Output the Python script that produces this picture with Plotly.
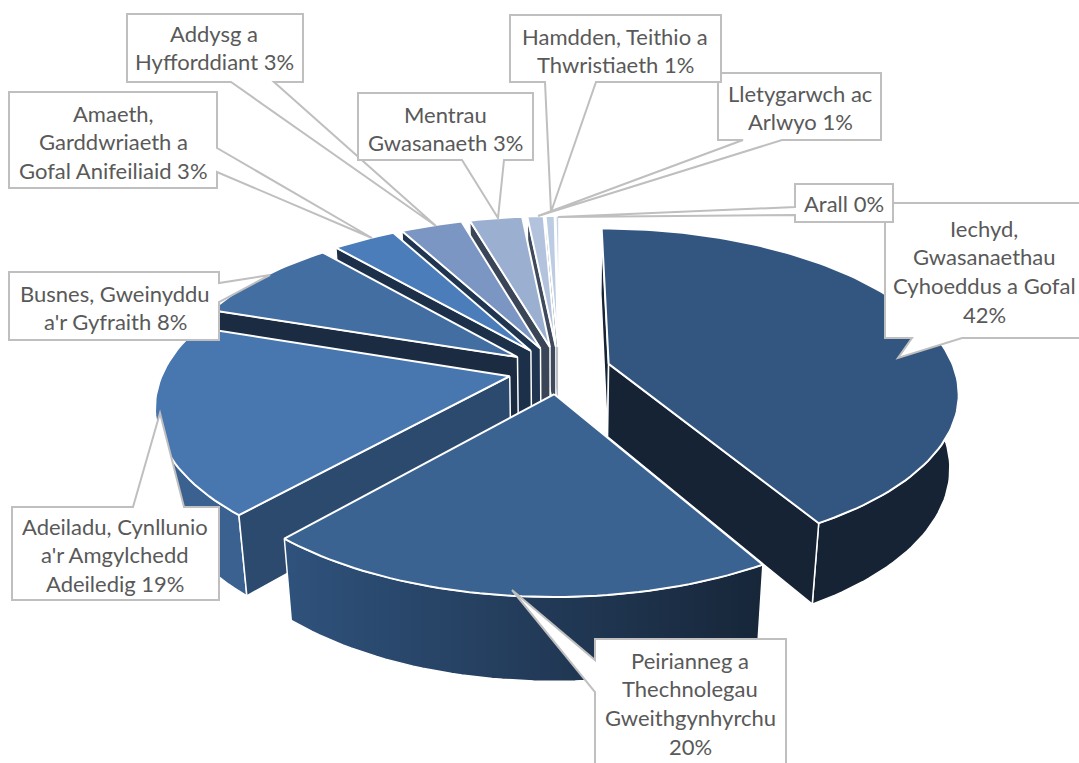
import math
import plotly.graph_objects as go

# share of each sector, clockwise from the top of the pie
sectors = ['Iechyd, Gwasanaethau Cyhoeddus a Gofal', 'Peirianneg a Thechnolegau Gweithgynhyrchu',
           'Adeiladu, Cynllunio a\'r Amgylchedd Adeiledig', 'Busnes, Gweinyddu a\'r Gyfraith',
           'Amaeth, Garddwriaeth a Gofal Anifeiliaid', 'Addysg a Hyfforddiant', 'Mentrau Gwasanaeth',
           'Hamdden, Teithio a Thwristiaeth', 'Lletygarwch ac Arlwyo', 'Arall']
values = [41.6, 19.9, 18.6, 8.49, 3.49, 3.4, 2.9, 0.9, 0.5, 0.2]
label_lines = [
    ['Iechyd,', 'Gwasanaethau', 'Cyhoeddus a Gofal', '42%'],
    ['Peirianneg a', 'Thechnolegau', 'Gweithgynhyrchu', '20%'],
    ['Adeiladu, Cynllunio', "a'r Amgylchedd", 'Adeiledig 19%'],
    ['Busnes, Gweinyddu', "a'r Gyfraith 8%"],
    ['Amaeth,', 'Garddwriaeth a', 'Gofal Anifeiliaid 3%'],
    ['Addysg a', 'Hyfforddiant 3%'],
    ['Mentrau', 'Gwasanaeth 3%'],
    ['Hamdden, Teithio a', 'Thwristiaeth 1%'],
    ['Lletygarwch ac', 'Arlwyo 1%'],
    ['Arall 0%'],
]

top_colors = ['#335681', '#3A6392', '#4876AF', '#436EA2', '#4A7DBA', '#7B96C2', '#9BB0D0', '#B3C3DD', '#BCCCE3', '#C9D6EA']
cut_colors = ['#162334', '#1F3550', '#2C4A6E', '#1A2B42', '#1C304A', '#1F3550', '#3A4658', '#3F4B5C', '#3F4B5C', '#3F4B5C']
rim_colors = [('#162334', '#162334'), ('#2F527C', '#172639'), ('#3A618F', '#3A618F'), ('#1A2B42', '#1A2B42'),
              ('#1C304A', '#1C304A'), ('#1F3550', '#1F3550'), ('#3A4658', '#3A4658'), ('#3F4B5C', '#3F4B5C'),
              ('#3F4B5C', '#3F4B5C'), ('#3F4B5C', '#3F4B5C')]

# camera of the tilted pie, in page pixels
CX, CY = 559.5, 370
A, B, H = 346, 160, 75
K, M = 0.1667, 0.022
EXPLODE = 0.148
GREY = '#BFBFBF'
TEXT = '#595959'
FONT = 'Lato'
FONT_SIZE = 22
LINE_PITCH = 28.7

# callout outline (closed polygon, tail included) and text centre for each label
callouts = [
    ([(885, 203), (1085, 203), (1085, 338), (962, 338), (898, 358), (912, 338), (885, 338)], (984, 228)),
    ([(595, 639), (786, 639), (786, 775), (595, 775), (595, 692), (512, 590), (595, 660)], (690, 660)),
    ([(12, 507), (133, 507), (160, 413), (184, 507), (219, 507), (219, 600), (12, 600)], (115, 526)),
    ([(9, 272), (219, 272), (219, 283), (270, 275), (219, 302), (219, 340), (9, 340)], (115, 293)),
    ([(9, 92), (217, 92), (217, 148), (372, 238), (217, 172), (217, 188), (9, 188)], (113, 113)),
    ([(127, 14), (303, 14), (303, 82), (274, 82), (436, 226), (231, 82), (127, 82)], (214, 33)),
    ([(358, 93), (533, 93), (533, 160), (504, 160), (498, 218), (462, 160), (358, 160)], (445, 114)),
    ([(510, 15), (721, 15), (721, 82), (596, 82), (551, 212), (545, 82), (510, 82)], (615, 36)),
    ([(718, 73), (881, 73), (881, 140), (782, 140), (538, 216), (743, 140), (718, 140)], (800, 93)),
    ([(795, 184), (893, 184), (893, 222), (795, 222), (795, 215), (558, 217), (795, 207)], (844, 203)),
]
# Lletygarwch sits under the Hamdden box
draw_order = [0, 1, 2, 3, 4, 5, 6, 8, 7, 9]


def project(x, y, z=0.0):
    s = 1 / (1 + K * y + M * z)
    return CX + A * x * s, CY - B * y * s + H * z * s


def area(points):
    return sum(points[i][0] * points[(i + 1) % len(points)][1] - points[(i + 1) % len(points)][0] * points[i][1]
               for i in range(len(points)))


def sector_shapes(a0, a1):
    mid = (a0 + a1) / 2
    ox, oy = EXPLODE * math.sin(mid), EXPLODE * math.cos(mid)
    n = max(4, int((a1 - a0) * 40))
    rim = [(ox + math.sin(a0 + (a1 - a0) * i / n), oy + math.cos(a0 + (a1 - a0) * i / n)) for i in range(n + 1)]
    top = [project(ox, oy)] + [project(*p) for p in rim]
    wall = [project(*p) for p in rim] + [project(p[0], p[1], 1) for p in reversed(rim)]
    cut_a = [project(ox, oy), project(*rim[0]), project(rim[0][0], rim[0][1], 1), project(ox, oy, 1)]
    cut_b = [project(ox, oy), project(*rim[-1]), project(rim[-1][0], rim[-1][1], 1), project(ox, oy, 1)]
    # keep only the cut faces that turn towards the viewer
    cuts = []
    if area(cut_a) < 0:
        cuts.append(cut_a)
    if area(cut_b) > 0:
        cuts.append(cut_b)
    return top, wall, cuts


def poly(points, color=None, gradient=None, width=1.5):
    xs = [p[0] for p in points] + [points[0][0]]
    ys = [p[1] for p in points] + [points[0][1]]
    trace = go.Scatter(x=xs, y=ys, mode='lines', fill='toself', line=dict(color='white', width=width), hoverinfo='skip')
    if gradient:
        trace.fillgradient = dict(type='horizontal', colorscale=[[0, gradient[0]], [1, gradient[1]]])
    else:
        trace.fillcolor = color
    return trace


total = sum(values)
edges = [0]
for v in values:
    edges.append(edges[-1] + v / total * 2 * math.pi)

fig = go.Figure()
# back sectors first so the front ones paint over them
for i in [9, 8, 7, 6, 5, 4, 3, 2, 0, 1]:
    top, wall, cuts = sector_shapes(edges[i], edges[i + 1])
    c0, c1 = rim_colors[i]
    fig.add_trace(poly(wall, gradient=(c0, c1) if c0 != c1 else None, color=c0))
    for cut in cuts:
        fig.add_trace(poly(cut, color=cut_colors[i]))
    fig.add_trace(poly(top, color=top_colors[i], width=2))

shapes = []
annotations = []
for i in draw_order:
    outline, (tx, ty) = callouts[i]
    path = 'M ' + ' L '.join(f'{x} {y}' for x, y in outline) + ' Z'
    shapes.append(dict(type='path', path=path, fillcolor='white', line=dict(color=GREY, width=2), layer='above'))
    for j, line in enumerate(label_lines[i]):
        annotations.append(dict(x=tx, y=ty + j * LINE_PITCH, text=line, showarrow=False, xanchor='center', yanchor='middle',
                                font=dict(family=FONT, size=FONT_SIZE, color=TEXT)))

fig.update_layout(
    width=1079, height=763, margin=dict(l=0, r=0, t=0, b=0),
    paper_bgcolor='white', plot_bgcolor='white', showlegend=False,
    xaxis=dict(range=[0, 1079], visible=False, fixedrange=True),
    yaxis=dict(range=[763, 0], visible=False, fixedrange=True),
    shapes=shapes, annotations=annotations,
)
fig.write_html("out.html", config=dict(displayModeBar=False),
               post_script="document.body.style.margin='0';document.body.style.overflow='hidden';")
